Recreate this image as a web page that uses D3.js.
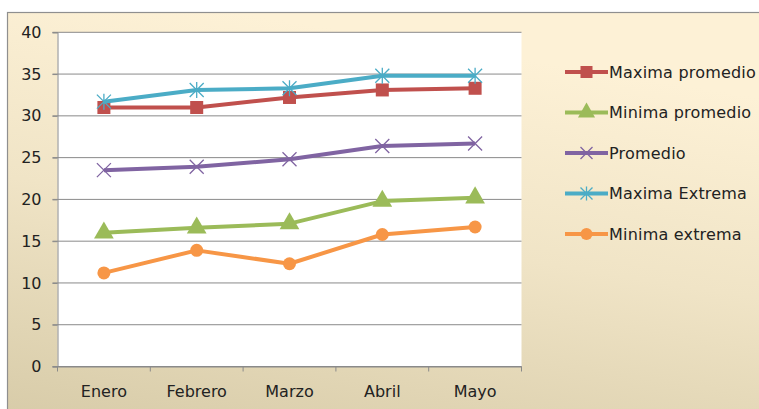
<!DOCTYPE html>
<html><head><meta charset="utf-8">
<script src="https://cdn.jsdelivr.net/npm/d3@7"></script>
<style>html,body{margin:0;padding:0;background:#fff;overflow:hidden}</style>
</head><body>
<svg id="c" width="759" height="409"></svg>
<script>
const categories = ["Enero","Febrero","Marzo","Abril","Mayo"];
const seriesNames = ["Maxima promedio","Minima promedio","Promedio","Maxima Extrema","Minima extrema"];
const maximaPromedio = [31.0, 31.0, 32.2, 33.1, 33.3];
const minimaPromedio = [16.0, 16.6, 17.1, 19.8, 20.2];
const promedio = [23.5, 23.9, 24.8, 26.4, 26.7];
const maximaExtrema = [31.7, 33.1, 33.3, 34.8, 34.8];
const minimaExtrema = [11.2, 13.9, 12.3, 15.8, 16.7];
const yTicks = [0,5,10,15,20,25,30,35,40];

const seriesValues = [maximaPromedio, minimaPromedio, promedio, maximaExtrema, minimaExtrema];
const colors = ["#C0504D","#9BBB59","#8064A2","#4BACC6","#F79646"];
const markers = ["square","triangle","x","star","circle"];
const FONT = "'DejaVu Sans', Verdana, sans-serif";

const svg = d3.select("#c");
const defs = svg.append("defs");
const g1 = defs.append("linearGradient").attr("id","bg").attr("x1","0.3").attr("y1","0").attr("x2","0").attr("y2","1");
g1.append("stop").attr("offset","0").attr("stop-color","#fdf1d6");
g1.append("stop").attr("offset","0.45").attr("stop-color","#f0e4c6");
g1.append("stop").attr("offset","1").attr("stop-color","#d7cba8");

svg.append("rect").attr("x",7.5).attr("y",12.5).attr("width",760).attr("height",410)
  .attr("fill","url(#bg)").attr("stroke","#8f8f8f").attr("stroke-width",1.2);

const L = 57.5, R = 521.5, T = 32.3, B = 366.5;
const x = d3.scaleBand().domain(categories).range([L,R]);
const y = d3.scaleLinear().domain([0,40]).range([B,T]);

svg.append("rect").attr("x",L).attr("y",T).attr("width",R-L).attr("height",B-T).attr("fill","#fff");

// gridlines
svg.append("g").selectAll("line").data(yTicks).join("line")
  .attr("x1",L-5).attr("x2",R).attr("y1",d=>y(d)).attr("y2",d=>y(d))
  .attr("stroke","#8a8a8a").attr("stroke-width",1);

// y axis
const yAxis = svg.append("g").attr("transform",`translate(${L},0)`)
  .call(d3.axisLeft(y).tickValues(yTicks).tickSize(5).tickPadding(11));
yAxis.select(".domain").attr("stroke","#8a8a8a");
yAxis.selectAll(".tick line").attr("stroke","#8a8a8a");
yAxis.selectAll("text").attr("font-family",FONT).attr("font-size",16).attr("fill","#222");

// x axis
const xAxis = svg.append("g").attr("transform",`translate(0,${B})`)
  .call(d3.axisBottom(x).tickSize(0).tickPadding(19));
xAxis.select(".domain").attr("stroke","#8a8a8a");
xAxis.selectAll("text").attr("font-family",FONT).attr("font-size",16).attr("fill","#222");
svg.append("g").selectAll("line").data(d3.range(categories.length+1)).join("line")
  .attr("x1",i=>L+i*x.step()).attr("x2",i=>L+i*x.step())
  .attr("y1",B).attr("y2",B+5).attr("stroke","#8a8a8a");

function drawMarker(sel, type, color, s){
  if(type==="square"){
    sel.append("rect").attr("x",-s/2).attr("y",-s/2).attr("width",s).attr("height",s).attr("fill",color);
  } else if(type==="circle"){
    sel.append("circle").attr("r",s/2).attr("fill",color);
  } else if(type==="triangle"){
    sel.append("path").attr("d",d3.symbol().type(d3.symbolTriangle).size(s*s*0.75)()).attr("fill",color);
  } else if(type==="x"){
    const h=s/2;
    sel.append("path").attr("d",`M${-h},${-h}L${h},${h}M${-h},${h}L${h},${-h}`).attr("stroke",color).attr("stroke-width",1.3).attr("fill","none");
  } else if(type==="star"){
    const h=s/2;
    sel.append("path").attr("d",`M${-h},${-h}L${h},${h}M${-h},${h}L${h},${-h}M0,${-h-1}L0,${h+1}`).attr("stroke",color).attr("stroke-width",1.3).attr("fill","none");
  }
}

const line = d3.line().x((d,i)=>x(categories[i])+x.bandwidth()/2).y(d=>y(d));
seriesValues.forEach((vals,k)=>{
  const g = svg.append("g");
  g.append("path").datum(vals).attr("d",line).attr("fill","none")
    .attr("stroke",colors[k]).attr("stroke-width",4).attr("stroke-linejoin","round");
  vals.forEach((v,i)=>{
    const m = g.append("g").attr("transform",`translate(${x(categories[i])+x.bandwidth()/2},${y(v)})`);
    drawMarker(m, markers[k], colors[k], markers[k]==="x"||markers[k]==="star"?14:(markers[k]==="triangle"?15:13));
  });
});

// legend
const lg = svg.append("g");
seriesNames.forEach((name,k)=>{
  const ly = 72 + k*40.5;
  const row = lg.append("g").attr("transform",`translate(0,${ly})`);
  row.append("line").attr("x1",565).attr("x2",608).attr("y1",0).attr("y2",0)
    .attr("stroke",colors[k]).attr("stroke-width",4);
  const m = row.append("g").attr("transform","translate(586.5,0)");
  drawMarker(m, markers[k], colors[k], markers[k]==="x"||markers[k]==="star"?12:(markers[k]==="triangle"?13:12));
  row.append("text").attr("x",609).attr("y",0).attr("dy","0.35em")
    .attr("font-family",FONT).attr("font-size",16).attr("fill","#222")
    .attr("letter-spacing",0.2)
    .text(name);
});
</script>
</body></html>
